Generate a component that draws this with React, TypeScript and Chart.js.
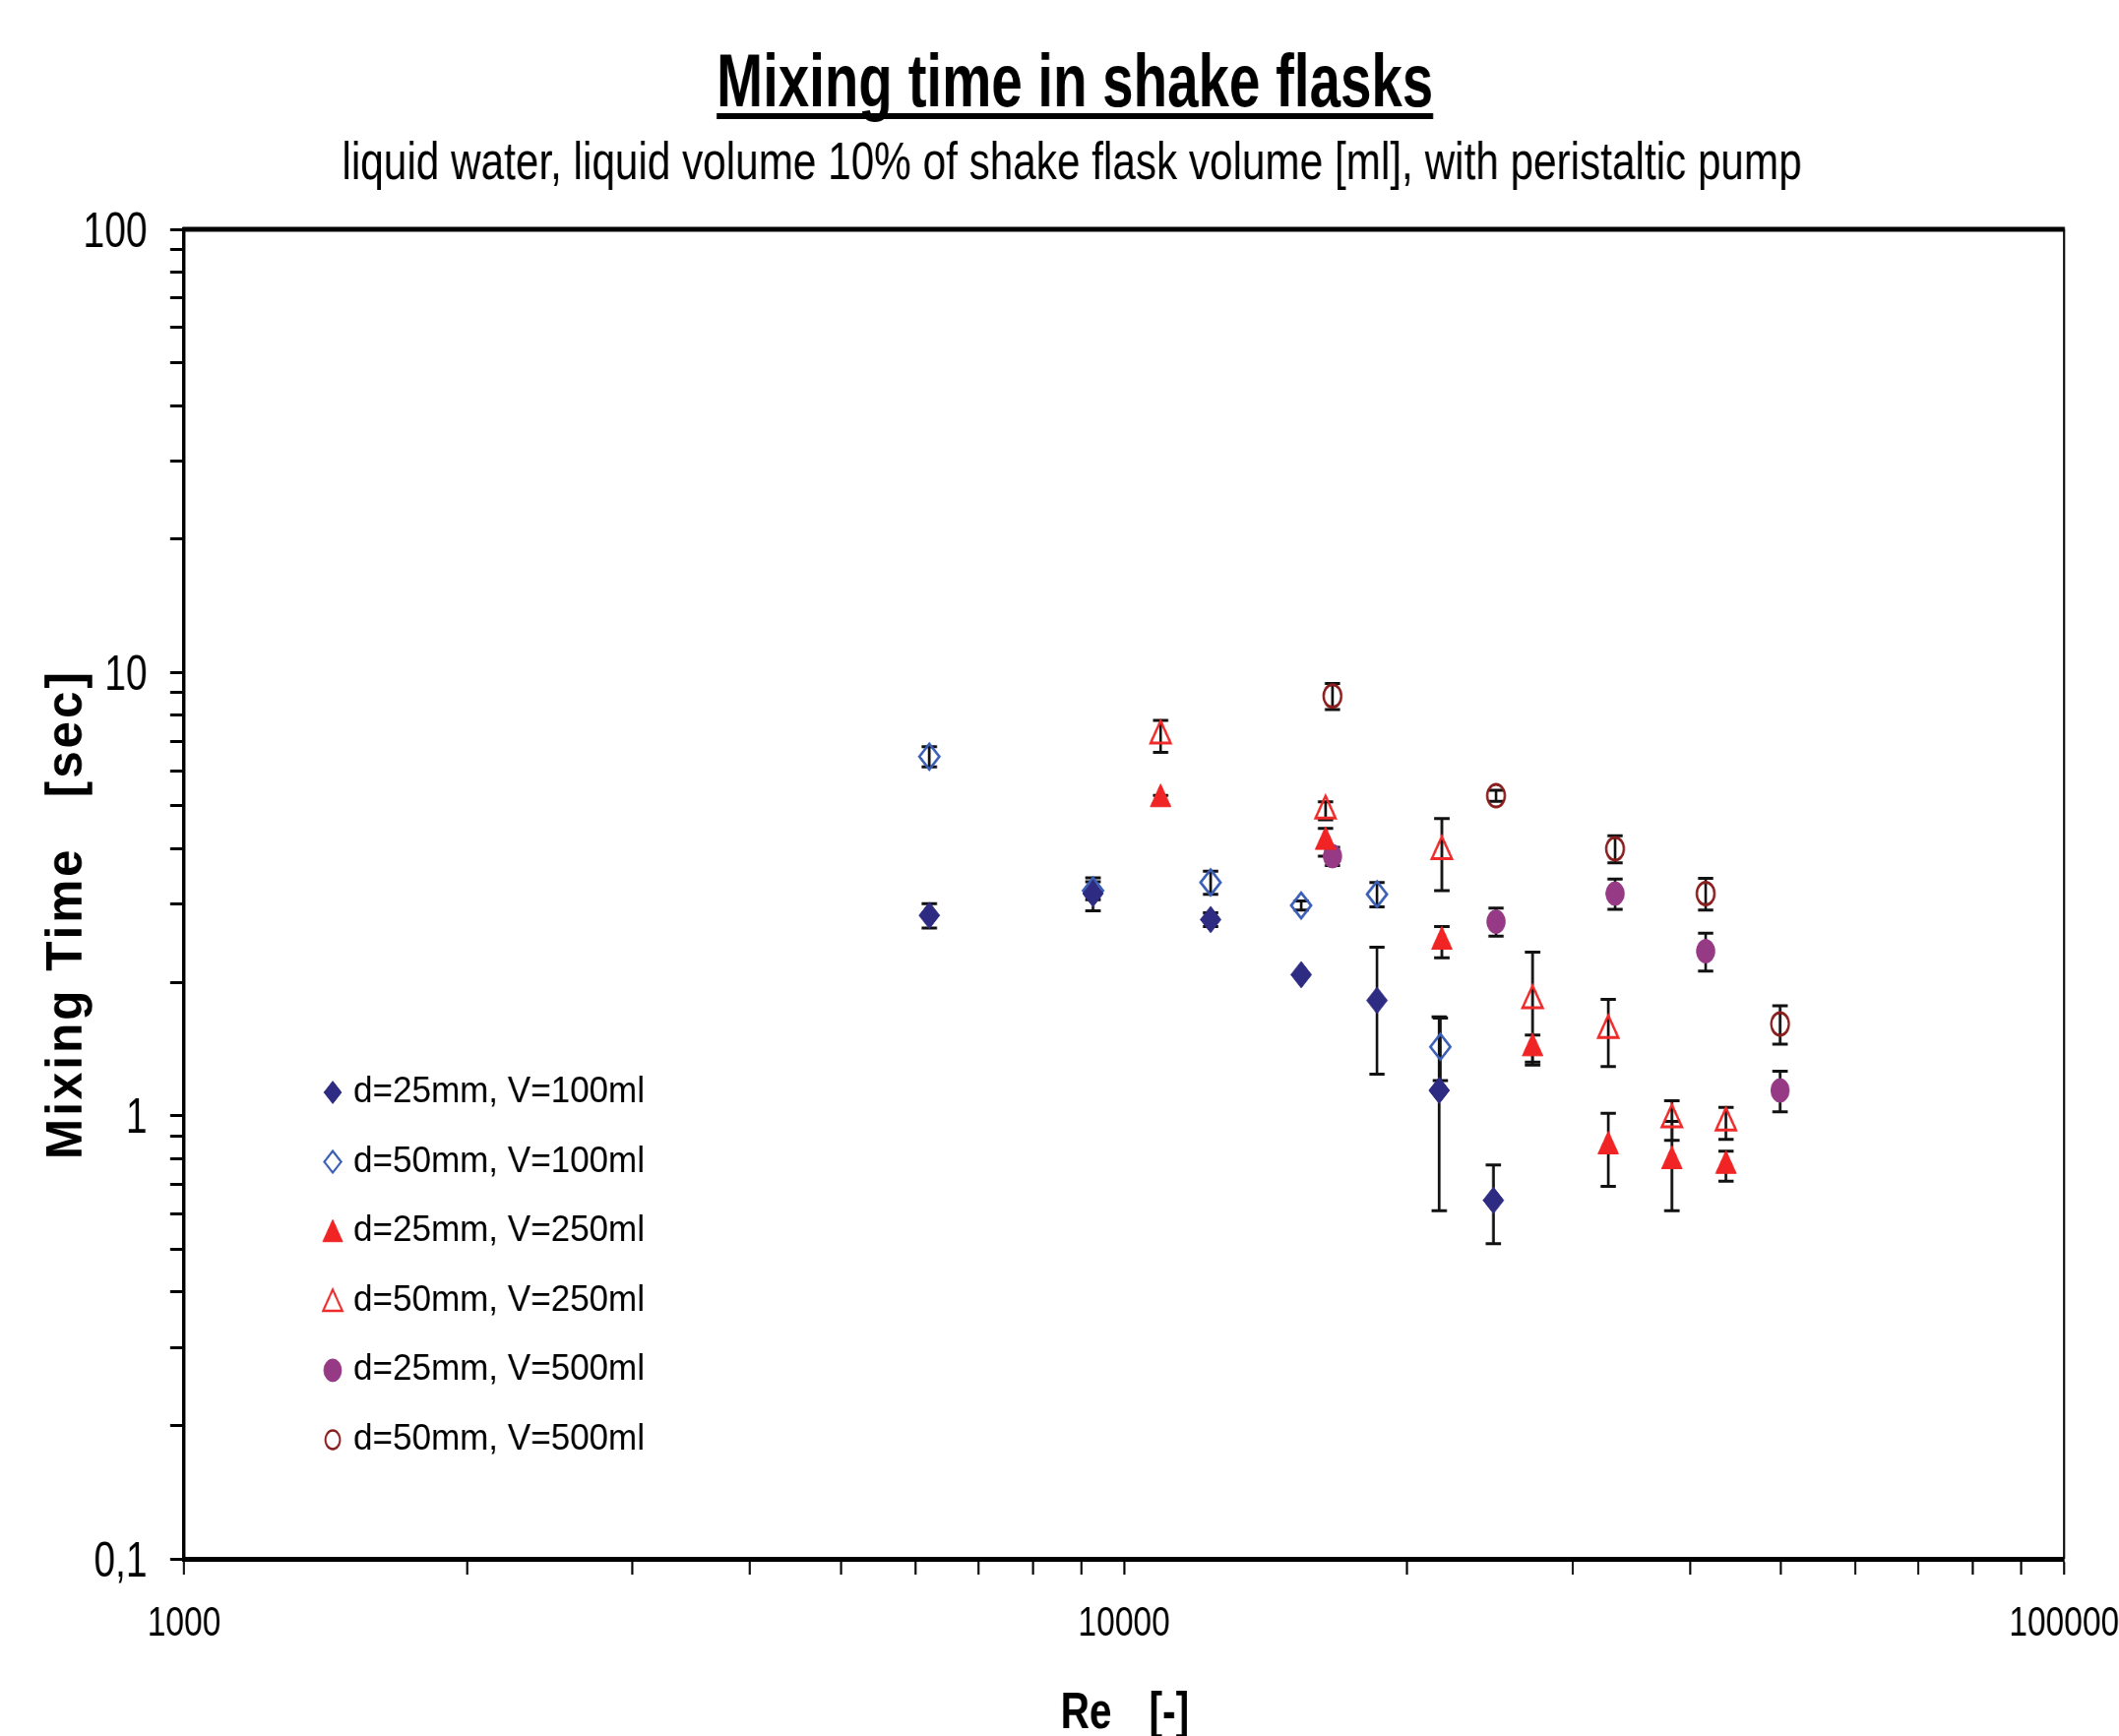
import React, { useEffect, useRef } from 'react';
import { Chart, registerables } from 'chart.js';
import { drawPoint } from 'chart.js/helpers';

Chart.register(...registerables);

// ---------------- text ----------------
const TITLE = 'Mixing time in shake flasks';
const SUBTITLE = 'liquid water, liquid volume 10% of shake flask volume [ml], with peristaltic pump';
const X_TITLE_A = 'Re';
const X_TITLE_B = '[-]';
const Y_TITLE = 'Mixing Time   [sec]';

// ---------------- ticks ----------------
const X_MAJOR = [1000, 10000, 100000];
const X_MAJOR_LABELS = ['1000', '10000', '100000'];
const Y_MAJOR = [0.1, 1, 10, 100];
const Y_MAJOR_LABELS = ['0,1', '1', '10', '100'];
const MINOR_STEPS = [1, 2, 3, 4, 5, 6, 7, 8, 9];

// ---------------- series ----------------
const SERIES_LABELS = [
  'd=25mm, V=100ml',
  'd=50mm, V=100ml',
  'd=25mm, V=250ml',
  'd=50mm, V=250ml',
  'd=25mm, V=500ml',
  'd=50mm, V=500ml',
];

const reD25V100 = [6206, 9267, 12360, 15430, 18580, 21640, 24710];
const tD25V100 = [2.83, 3.17, 2.77, 2.08, 1.82, 1.14, 0.644];
const eD25V100 = [0.18, 0.27, 0.1, 0, 0.58, 0.53, 0.13];

const reD50V100 = [6206, 9267, 12360, 15430, 18580, 21700];
const tD50V100 = [6.46, 3.22, 3.36, 2.98, 3.16, 1.43];
const eD50V100 = [0.34, 0.15, 0.2, 0.07, 0.2, 0.23];

const reD25V250 = [10936, 16380, 21780, 27200, 32740, 38260, 43680];
const tD25V250 = [5.18, 4.15, 2.47, 1.42, 0.853, 0.79, 0.771];
const eD25V250 = [0.1, 0.3, 0.2, 0.1, 0.16, 0.18, 0.06];

const reD50V250 = [10936, 16380, 21780, 27200, 32740, 38260, 43680];
const tD50V250 = [7.2, 4.88, 3.95, 1.82, 1.56, 0.98, 0.964];
const eD50V250 = [0.6, 0.23, 0.73, 0.52, 0.27, 0.1, 0.08];

const reD25V500 = [16660, 24870, 33290, 41560, 49870];
const tD25V500 = [3.85, 2.74, 3.17, 2.35, 1.14];
const eD25V500 = [0.18, 0.2, 0.25, 0.23, 0.12];

const reD50V500 = [16660, 24870, 33290, 41560, 49870];
const tD50V500 = [8.85, 5.27, 4.0, 3.17, 1.61];
const eD50V500 = [0.6, 0.15, 0.28, 0.26, 0.16];

const SERIES_X = [reD25V100, reD50V100, reD25V250, reD50V250, reD25V500, reD50V500];
const SERIES_Y = [tD25V100, tD50V100, tD25V250, tD50V250, tD25V500, tD50V500];
const SERIES_ERR = [eD25V100, eD50V100, eD25V250, eD50V250, eD25V500, eD50V500];

// ---------------- styles / layout ----------------
const SQUEEZE = 0.78; // horizontal condensation of the whole figure
const OUT_W = 2153;
const OUT_H = 1764;
const LW = Math.round(OUT_W / SQUEEZE);
const FONT = '"Liberation Sans", Arial, sans-serif';

const STYLES = [
  { pointStyle: 'rectRot', radius: 13.5, fill: '#2E2B82', stroke: '#2E2B82', bw: 1, legendRadius: 11.5, legendBw: 1 },
  { pointStyle: 'rectRot', radius: 13, fill: 'rgba(0,0,0,0)', stroke: '#3A5DB5', bw: 3, legendRadius: 11, legendBw: 2.5 },
  { pointStyle: 'triangle', radius: 15.5, fill: '#F02424', stroke: '#F02424', bw: 1, legendRadius: 15, legendBw: 1 },
  { pointStyle: 'triangle', radius: 15, fill: 'rgba(0,0,0,0)', stroke: '#EE2A2A', bw: 3, legendRadius: 14.5, legendBw: 2.5 },
  { pointStyle: 'circle', radius: 12, fill: '#963A86', stroke: '#963A86', bw: 1, legendRadius: 11.5, legendBw: 1 },
  { pointStyle: 'circle', radius: 11.5, fill: 'rgba(0,0,0,0)', stroke: '#8A1E1E', bw: 3, legendRadius: 9.5, legendBw: 2.5 },
];

const PLOT_LEFT = 187 / SQUEEZE;
const PLOT_RIGHT = 2097 / SQUEEZE;
const PLOT_TOP = 233;
const PLOT_BOTTOM = 1584;

function ticksFrom(majors: number[]) {
  const out: number[] = [];
  for (let i = 0; i < majors.length - 1; i++) {
    for (const m of MINOR_STEPS) out.push(majors[i] * m);
  }
  out.push(majors[majors.length - 1]);
  return out;
}

function labelFor(v: number, majors: number[], labels: string[]) {
  const i = majors.findIndex((m) => Math.abs(m - v) / m < 1e-9);
  return i >= 0 ? labels[i] : '';
}

const decorPlugin = {
  id: 'decor',
  beforeDraw(chart: any) {
    const ctx = chart.ctx;
    ctx.save();
    ctx.fillStyle = '#ffffff';
    ctx.fillRect(0, 0, chart.width, chart.height);
    ctx.restore();
  },
  beforeDatasetsDraw(chart: any) {
    const ctx = chart.ctx;
    const xs = chart.scales.x;
    const ys = chart.scales.y;
    ctx.save();
    ctx.strokeStyle = '#111111';
    SERIES_X.forEach((xArr, si) => {
      xArr.forEach((xv, i) => {
        const e = SERIES_ERR[si][i];
        if (!e) return;
        const yv = SERIES_Y[si][i];
        const px = xs.getPixelForValue(xv);
        const pt = ys.getPixelForValue(yv + e);
        const pb = ys.getPixelForValue(yv - e);
        ctx.lineWidth = 3.5;
        ctx.beginPath();
        ctx.moveTo(px, pt);
        ctx.lineTo(px, pb);
        ctx.stroke();
        ctx.lineWidth = 3;
        ctx.beginPath();
        ctx.moveTo(px - 10, pt);
        ctx.lineTo(px + 10, pt);
        ctx.moveTo(px - 10, pb);
        ctx.lineTo(px + 10, pb);
        ctx.stroke();
      });
    });
    ctx.restore();
  },
  afterDraw(chart: any) {
    const ctx = chart.ctx;
    const a = chart.chartArea;
    ctx.save();
    // frame top + right
    ctx.strokeStyle = '#000';
    ctx.lineWidth = 5;
    ctx.beginPath();
    ctx.moveTo(a.left - 2, a.top);
    ctx.lineTo(a.right + 1, a.top);
    ctx.stroke();
    ctx.lineWidth = 2.6;
    ctx.beginPath();
    ctx.moveTo(a.right, a.top);
    ctx.lineTo(a.right, a.bottom);
    ctx.stroke();

    ctx.fillStyle = '#000';
    // title
    const titleCx = 1092 / SQUEEZE;
    const titleW = 728 / SQUEEZE;
    ctx.font = `bold 76px ${FONT}`;
    let w = ctx.measureText(TITLE).width;
    ctx.save();
    ctx.translate(titleCx, 108);
    ctx.scale(titleW / w, 1);
    ctx.textAlign = 'center';
    ctx.textBaseline = 'alphabetic';
    ctx.fillText(TITLE, 0, 0);
    ctx.restore();
    ctx.fillRect(titleCx - titleW / 2, 115, titleW, 6);

    // subtitle
    const subCx = 1089 / SQUEEZE;
    const subW = 1483 / SQUEEZE;
    ctx.font = `53px ${FONT}`;
    w = ctx.measureText(SUBTITLE).width;
    ctx.save();
    ctx.translate(subCx, 182);
    ctx.scale(subW / w, 1);
    ctx.textAlign = 'center';
    ctx.textBaseline = 'alphabetic';
    ctx.fillText(SUBTITLE, 0, 0);
    ctx.restore();

    // x axis title
    const cx = (a.left + a.right) / 2;
    ctx.font = `bold 52px ${FONT}`;
    ctx.textAlign = 'left';
    ctx.textBaseline = 'alphabetic';
    ctx.fillText(X_TITLE_A, cx - 64.5 / SQUEEZE, 1756);
    ctx.fillText(X_TITLE_B, cx + 25.5 / SQUEEZE, 1756);

    // y axis title (rotated)
    ctx.save();
    ctx.font = `bold 66px ${FONT}`;
    try { (ctx as any).letterSpacing = '4px'; } catch (e) {}
    w = ctx.measureText(Y_TITLE).width;
    ctx.translate(83 / SQUEEZE, 929);
    ctx.rotate(-Math.PI / 2);
    ctx.scale(498 / w, 1);
    ctx.textAlign = 'center';
    ctx.textBaseline = 'alphabetic';
    ctx.fillText(Y_TITLE, 0, 0);
    ctx.restore();

    // legend
    const legX = 338 / SQUEEZE;
    const legTextX = 359 / SQUEEZE;
    const legY0 = 1110;
    const legStep = 70.6;
    ctx.font = `36px ${FONT}`;
    const legK = 296 / ctx.measureText(SERIES_LABELS[0]).width;
    SERIES_LABELS.forEach((lab, i) => {
      const st = STYLES[i];
      const y = legY0 + i * legStep;
      ctx.save();
      ctx.fillStyle = st.fill;
      ctx.strokeStyle = st.stroke;
      ctx.lineWidth = st.legendBw;
      drawPoint(
        ctx,
        { pointStyle: st.pointStyle, radius: st.legendRadius, rotation: 0, borderWidth: st.legendBw } as any,
        legX,
        y + (st.pointStyle === 'triangle' ? 3 : 0)
      );
      ctx.restore();
      ctx.save();
      ctx.translate(legTextX, y);
      ctx.scale(legK / SQUEEZE, 1);
      ctx.font = `36px ${FONT}`;
      ctx.fillStyle = '#000';
      ctx.textAlign = 'left';
      ctx.textBaseline = 'middle';
      ctx.fillText(lab, 0, 0);
      ctx.restore();
    });
    ctx.restore();
  },
};

export default function App() {
  const ref = useRef<HTMLCanvasElement>(null);
  useEffect(() => {
    document.body.style.margin = '0';
    document.body.style.overflow = 'hidden';
    const datasets = SERIES_LABELS.map((label, si) => ({
      label,
      data: SERIES_X[si].map((x, i) => ({ x, y: SERIES_Y[si][i] })),
      showLine: false,
      pointStyle: STYLES[si].pointStyle,
      pointRadius: STYLES[si].radius,
      pointHoverRadius: STYLES[si].radius,
      pointBackgroundColor: STYLES[si].fill,
      pointBorderColor: STYLES[si].stroke,
      pointBorderWidth: STYLES[si].bw,
      backgroundColor: STYLES[si].fill,
      borderColor: STYLES[si].stroke,
    }));
    const chart = new Chart(ref.current as HTMLCanvasElement, {
      type: 'scatter',
      data: { datasets } as any,
      plugins: [decorPlugin],
      options: {
        responsive: false,
        maintainAspectRatio: false,
        animation: false,
        events: [],
        layout: { padding: { top: PLOT_TOP, right: LW - PLOT_RIGHT, left: 0, bottom: 0 } },
        plugins: {
          legend: { display: false },
          tooltip: { enabled: false },
          title: { display: false },
        },
        scales: {
          x: {
            type: 'logarithmic',
            min: X_MAJOR[0],
            max: X_MAJOR[X_MAJOR.length - 1],
            afterBuildTicks: (s: any) => {
              s.ticks = ticksFrom(X_MAJOR).map((v) => ({ value: v }));
            },
            afterFit: (s: any) => {
              s.height = OUT_H - PLOT_BOTTOM;
              s.paddingLeft = 0;
              s.paddingRight = 0;
            },
            grid: {
              display: true,
              drawOnChartArea: false,
              drawTicks: true,
              tickLength: 16,
              tickWidth: 2.6,
              color: '#000',
              tickColor: '#000',
            },
            border: { display: true, color: '#000', width: 5 },
            ticks: {
              autoSkip: false,
              maxRotation: 0,
              minRotation: 0,
              padding: 24,
              color: '#000',
              font: { family: FONT, size: 43 },
              callback: (v: any) => labelFor(Number(v), X_MAJOR, X_MAJOR_LABELS),
            },
          },
          y: {
            type: 'logarithmic',
            min: Y_MAJOR[0],
            max: Y_MAJOR[Y_MAJOR.length - 1],
            afterBuildTicks: (s: any) => {
              s.ticks = ticksFrom(Y_MAJOR).map((v) => ({ value: v }));
            },
            afterFit: (s: any) => {
              s.width = PLOT_LEFT;
              s.paddingTop = 0;
              s.paddingBottom = 0;
            },
            grid: {
              display: true,
              drawOnChartArea: false,
              drawTicks: true,
              tickLength: 18,
              tickWidth: 3,
              color: '#000',
              tickColor: '#000',
            },
            border: { display: true, color: '#000', width: 4.5 },
            ticks: {
              autoSkip: false,
              padding: 30,
              labelOffset: 4,
              color: '#000',
              font: { family: FONT, size: 50 },
              callback: (v: any) => labelFor(Number(v), Y_MAJOR, Y_MAJOR_LABELS),
            },
          },
        },
      } as any,
    });
    return () => chart.destroy();
  }, []);
  return (
    <div style={{ width: OUT_W, height: OUT_H, overflow: 'hidden', background: '#fff' }}>
      <canvas
        ref={ref}
        width={LW}
        height={OUT_H}
        style={{ width: OUT_W + 'px', height: OUT_H + 'px', display: 'block' }}
      />
    </div>
  );
}
